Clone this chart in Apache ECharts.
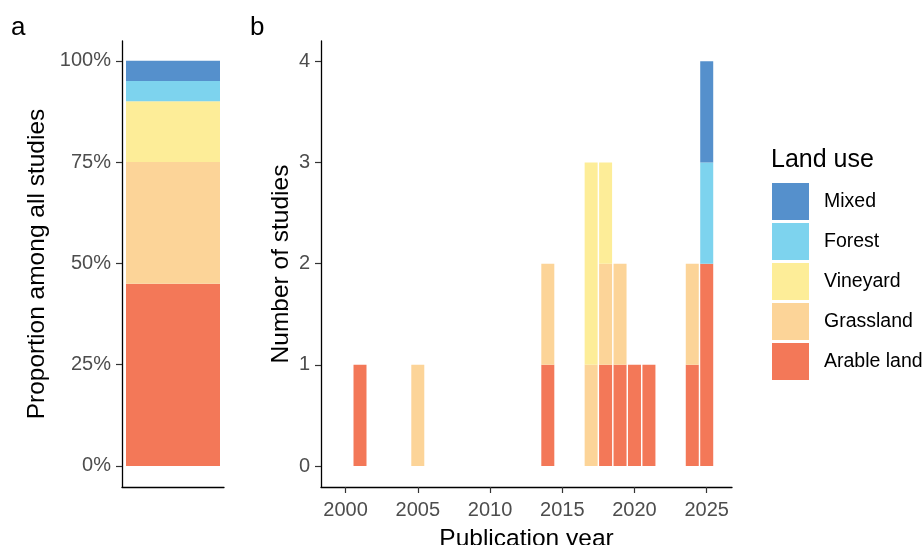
<!DOCTYPE html>
<html><head><meta charset="utf-8">
<script src="https://cdn.jsdelivr.net/npm/echarts@6/dist/echarts.min.js"></script>
<style>html,body{margin:0;padding:0;background:#fff}#c{width:923px;height:545px}</style>
</head><body><div id="c"></div>
<script>
// ---- data ----
const landUses = ['Arable land', 'Grassland', 'Vineyard', 'Forest', 'Mixed'];
const legendOrder = ['Mixed', 'Forest', 'Vineyard', 'Grassland', 'Arable land'];
const years = [2001, 2005, 2014, 2017, 2018, 2019, 2020, 2021, 2024, 2025];
const arable    = [1, 0, 1, 0, 1, 1, 1, 1, 1, 2];
const grassland = [0, 1, 1, 1, 1, 1, 0, 0, 1, 0];
const vineyard  = [0, 0, 0, 2, 1, 0, 0, 0, 0, 0];
const forest    = [0, 0, 0, 0, 0, 0, 0, 0, 0, 1];
const mixed     = [0, 0, 0, 0, 0, 0, 0, 0, 0, 1];
const shares = [45, 30, 15, 5, 5]; // percent, same order as landUses
const pctTicks = [0, 25, 50, 75, 100];
const countTicks = [0, 1, 2, 3, 4];
const yearTicks = [2000, 2005, 2010, 2015, 2020, 2025];

// ---- styling ----
const colors = {
  'Arable land': '#F37858',
  'Grassland': '#FCD498',
  'Vineyard': '#FDED98',
  'Forest': '#7DD3EE',
  'Mixed': '#5590CC'
};
const countsByUse = {
  'Arable land': arable, 'Grassland': grassland, 'Vineyard': vineyard,
  'Forest': forest, 'Mixed': mixed
};
const FONT = 'Liberation Sans, Arial, sans-serif';
const tickLabel = { color: '#4D4D4D', fontSize: 20, fontFamily: FONT };
const axisLine = { show: true, onZero: false, lineStyle: { color: '#000', width: 1.3 } };
const axisTick = { show: true, length: 6, lineStyle: { color: '#333', width: 1.2 } };
const nameStyle = { color: '#000', fontSize: 24.5, fontFamily: FONT };

const chart = echarts.init(document.getElementById('c'), null, { renderer: 'canvas' });

const series = [];
landUses.forEach((u, i) => {
  series.push({
    name: u, type: 'bar', stack: 'a', xAxisIndex: 0, yAxisIndex: 0,
    barWidth: 94, itemStyle: { color: colors[u] },
    data: [shares[i]], silent: true
  });
});
// stacked bars for panel b: compute base of each segment from the counts
const bases = years.map(() => 0);
landUses.forEach((u) => {
  const vals = countsByUse[u];
  const data = [];
  years.forEach((y, j) => {
    if (vals[j] > 0) data.push([y, vals[j], bases[j]]);
    bases[j] += vals[j];
  });
  const col = colors[u];
  series.push({
    name: u, type: 'custom', xAxisIndex: 1, yAxisIndex: 1, silent: true,
    itemStyle: { color: col },
    encode: { x: 0, y: 1 },
    data,
    renderItem: (params, api) => {
      const x = api.value(0), v = api.value(1), b = api.value(2);
      const p0 = api.coord([x, b]);
      const p1 = api.coord([x, b + v]);
      const w = api.size([0.9, 0])[0];
      return {
        type: 'rect',
        shape: { x: p0[0] - w / 2, y: p1[1], width: w, height: p0[1] - p1[1] },
        style: { fill: col }
      };
    }
  });
});

chart.setOption({
  animation: false,
  backgroundColor: '#fff',
  grid: [
    { left: 122, top: 41, width: 102, height: 446, containLabel: false, outerBoundsMode: 'none' },
    { left: 321, top: 41, width: 411, height: 446, containLabel: false, outerBoundsMode: 'none' }
  ],
  xAxis: [
    { gridIndex: 0, type: 'category', data: [''], axisLine, axisTick: { show: false },
      axisLabel: { show: false }, splitLine: { show: false } },
    { gridIndex: 1, type: 'value', min: 1998.3, max: 2026.75, axisLine,
      axisTick: Object.assign({ customValues: yearTicks }, axisTick),
      axisLabel: Object.assign({ customValues: yearTicks, margin: 13, formatter: v => String(v) }, tickLabel),
      splitLine: { show: false },
      name: 'Publication year', nameLocation: 'middle', nameGap: 40, nameTextStyle: nameStyle }
  ],
  yAxis: [
    { gridIndex: 0, type: 'value', min: -5.2, max: 104.9, axisLine,
      axisTick: Object.assign({ customValues: pctTicks }, axisTick),
      axisLabel: Object.assign({ customValues: pctTicks, margin: 11, formatter: v => v + '%' }, tickLabel),
      splitLine: { show: false },
      name: 'Proportion among all studies', nameLocation: 'middle', nameGap: 72, nameTextStyle: nameStyle },
    { gridIndex: 1, type: 'value', min: -0.207, max: 4.2, axisLine,
      axisTick: Object.assign({ customValues: countTicks }, axisTick),
      axisLabel: Object.assign({ customValues: countTicks, margin: 11 }, tickLabel),
      splitLine: { show: false },
      name: 'Number of studies', nameLocation: 'middle', nameGap: 27, nameTextStyle: nameStyle }
  ],
  legend: {
    data: legendOrder, orient: 'vertical', left: 767, top: 178,
    itemWidth: 37, itemHeight: 37, itemGap: 3, icon: 'rect',
    selectedMode: false,
    textStyle: { color: '#000', fontSize: 19.5, fontFamily: FONT, padding: [0, 0, 0, 10] }
  },
  graphic: [
    { type: 'text', left: 11, top: 15, style: { text: 'a', fontSize: 26, fontFamily: FONT, fill: '#000' } },
    { type: 'text', left: 250, top: 15, style: { text: 'b', fontSize: 26, fontFamily: FONT, fill: '#000' } },
    { type: 'text', left: 771, top: 148, style: { text: 'Land use', fontSize: 25, fontFamily: FONT, fill: '#000' } }
  ],
  series
});
</script></body></html>
